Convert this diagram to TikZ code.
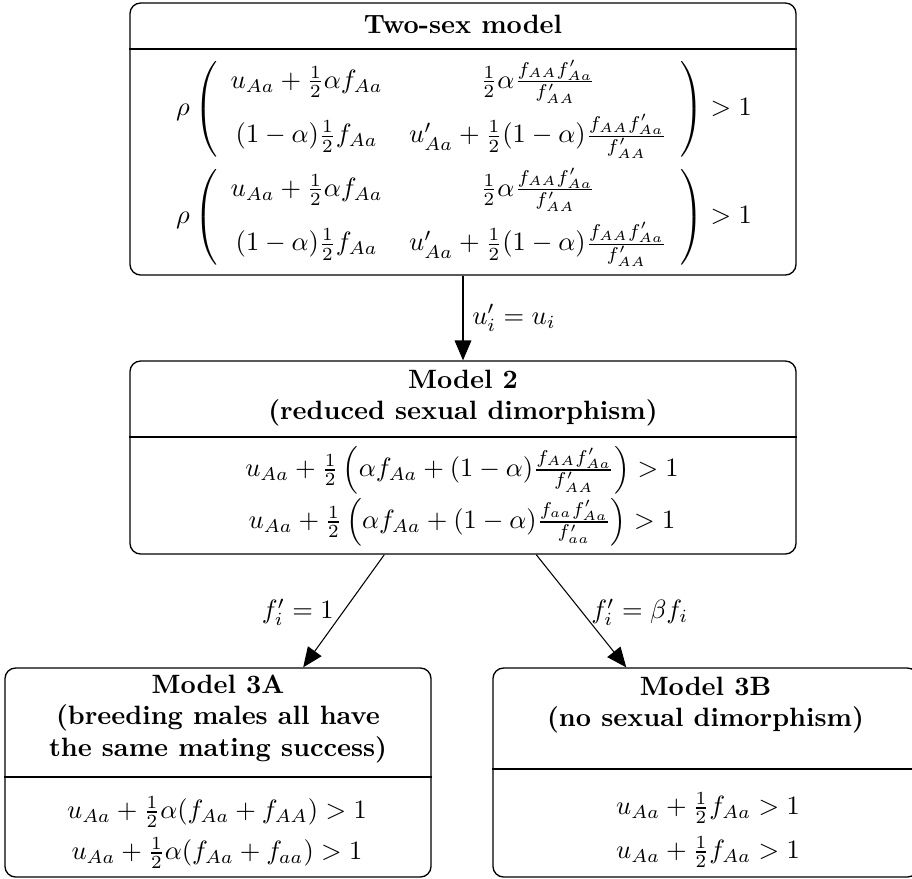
\documentclass[tikz,border=0pt]{standalone}
\usepackage{amsmath}
\usetikzlibrary{arrows.meta,calc}
\begin{document}
\begin{tikzpicture}[x=0.3774pt,y=-0.3774pt,
  modelbox/.style={draw,rounded corners=4pt,inner sep=0pt,line width=0.5pt},
  titletext/.style={align=center,font=\bfseries,inner sep=0pt},
  bodytext/.style={inner sep=0pt},
  conn/.style={-{Triangle[length=7.5pt,width=6.3pt]},line width=0.4pt},
  lbl/.style={inner sep=3.3pt}]
\useasboundingbox (0,0) rectangle (912,878);
% boxes
\node[modelbox,minimum width=251.35pt,minimum height=102.65pt] (top) at (463,139) {};
\node[modelbox,minimum width=251.35pt,minimum height=72.84pt] (m2) at (463,457.5) {};
\node[modelbox,minimum width=160.77pt,minimum height=78.88pt] (m3a) at (218,772.5) {};
\node[modelbox,minimum width=160.4pt,minimum height=78.88pt] (m3b) at (705.5,772.5) {};
% dividers
\draw[line width=0.5pt] (top.west |- 0,49) -- (top.east |- 0,49);
\draw[line width=0.5pt] (m2.west |- 0,437) -- (m2.east |- 0,437);
\draw[line width=0.5pt] (m3a.west |- 0,777) -- (m3a.east |- 0,777);
\draw[line width=0.5pt] (m3b.west |- 0,769) -- (m3b.east |- 0,769);
% titles
\node[titletext] (ttop) at (463,24) {Two-sex model};
\node[titletext] (tm2) at (463,398) {Model 2\\(reduced sexual dimorphism)};
\node[titletext] (tm3a) at (218,719) {Model 3A\\(breeding males all have\\the same mating success)};
\node[titletext] (tm3b) at (705.5,705) {Model 3B\\(no sexual dimorphism)};
% bodies
\node[bodytext] (btop1) at (464,109) {$\rho\left(\begin{array}{cc} u_{Aa}+\frac12\alpha f_{Aa} & \frac12\alpha\frac{f_{AA}f'_{Aa}}{f'_{AA}} \\[6pt] (1-\alpha)\frac12 f_{Aa} & u'_{Aa}+\frac12(1-\alpha)\frac{f_{AA}f'_{Aa}}{f'_{AA}} \end{array}\right) > 1$};
\node[bodytext] (btop2) at (464,217) {$\rho\left(\begin{array}{cc} u_{Aa}+\frac12\alpha f_{Aa} & \frac12\alpha\frac{f_{AA}f'_{Aa}}{f'_{AA}} \\[6pt] (1-\alpha)\frac12 f_{Aa} & u'_{Aa}+\frac12(1-\alpha)\frac{f_{AA}f'_{Aa}}{f'_{AA}} \end{array}\right) > 1$};
\node[bodytext] (bm2a) at (462,470) {$u_{Aa}+\frac12\left(\alpha f_{Aa}+(1-\alpha)\frac{f_{AA}f'_{Aa}}{f'_{AA}}\right)>1$};
\node[bodytext] (bm2b) at (462,522) {$u_{Aa}+\frac12\left(\alpha f_{Aa}+(1-\alpha)\frac{f_{aa}f'_{Aa}}{f'_{aa}}\right)>1$};
\node[bodytext] (bm3a1) at (217,812) {$u_{Aa}+\frac12\alpha(f_{Aa}+f_{AA})>1$};
\node[bodytext] (bm3a2) at (217,853) {$u_{Aa}+\frac12\alpha(f_{Aa}+f_{aa})>1$};
\node[bodytext] (bm3b1) at (708,808) {$u_{Aa}+\frac12 f_{Aa}>1$};
\node[bodytext] (bm3b2) at (708,852) {$u_{Aa}+\frac12 f_{Aa}>1$};
% connectors
\draw[conn] (top.south) -- node[lbl,anchor=west] {$u'_i=u_i$} (m2.north);
\draw[conn] (m2.231.8) -- node[lbl,anchor=east,pos=0.51] {$f'_i=1$} (m3a.51.9);
\draw[conn] (m2.307.1) -- node[lbl,anchor=west,pos=0.51] {$f'_i=\beta f_i$} (m3b.127.95);
\end{tikzpicture}
\end{document}
